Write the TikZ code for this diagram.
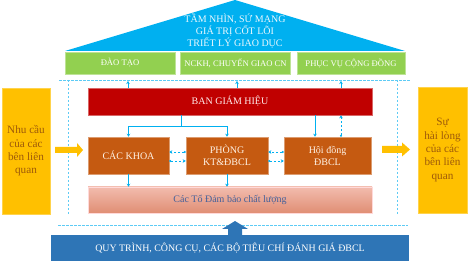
\documentclass[tikz,border=0pt]{standalone}
\usepackage{fontspec}
\setmainfont{Liberation Serif}
\usetikzlibrary{arrows.meta}
\definecolor{roofc}{HTML}{00B0F0}
\definecolor{greenc}{HTML}{92D050}
\definecolor{redc}{HTML}{C00000}
\definecolor{orangec}{HTML}{C55A11}
\definecolor{yellowc}{HTML}{FFC000}
\definecolor{ytext}{HTML}{9E5A0A}
\definecolor{bluec}{HTML}{2E75B6}
\definecolor{linec}{HTML}{00B0F0}
\definecolor{dashc}{HTML}{5DCBF5}
\definecolor{totext}{HTML}{44609A}
\definecolor{totop}{HTML}{F2BCAE}
\definecolor{tobot}{HTML}{E08E74}
\tikzset{
  box/.style={rectangle, inner sep=0pt, anchor=center, text centered},
  greenbox/.style={box, fill=greenc, draw=greenc!60!white, line width=0.6pt, minimum height=22pt, text=white, font=\fontsize{8.6}{9}\selectfont},
  redbox/.style={box, fill=redc, draw=redc!60!white, line width=0.5pt, text=white!92!red, font=\fontsize{10}{12}\selectfont},
  orangebox/.style={box, fill=orangec, draw=orangec!60!white, line width=0.5pt, minimum height=37pt, text=white!90!orange, font=\fontsize{10}{12}\selectfont, align=center},
  yellowbox/.style={box, fill=yellowc, draw=yellowc!70!white, line width=0.5pt, minimum width=48pt, minimum height=126pt, text=ytext, font=\fontsize{11.2}{13.3}\selectfont, align=center},
  conn/.style={draw=linec, line width=0.8pt, -{Stealth[length=3pt,width=3.5pt]}},
  dconn/.style={draw=linec, line width=0.8pt, dash pattern=on 2.5pt off 1.5pt, {Circle[length=2pt]}-{Stealth[length=3pt,width=3.5pt]}},
  dline/.style={draw=dashc, line width=0.8pt, dash pattern=on 2.5pt off 1.5pt},
}
\begin{document}
\begin{tikzpicture}[x=1pt,y=-1pt]
\useasboundingbox (0,0) rectangle (470,261);
% roof
\fill[roofc] (65,51) -- (235,0) -- (405,51) -- cycle;
\node[box, text=white!92!cyan, font=\fontsize{10}{12}\selectfont, align=center] (roof) at (235,31) {TẦM NHÌN, SỨ MẠNG\\GIÁ TRỊ CỐT LÕI\\TRIẾT LÝ GIAO DỤC};
% green boxes
\node[greenbox, minimum width=110pt] (g1) at (120,63) {ĐÀO TẠO};
\node[greenbox, minimum width=110pt] (g2) at (235.5,63) {NCKH, CHUYỂN GIAO CN};
\node[greenbox, minimum width=108pt] (g3) at (351,63) {PHỤC VỤ CỘNG ĐỒNG};
% dashed frame
\coordinate (tl) at (59,80); \coordinate (tr) at (410,80);
\coordinate (bl) at (58,225); \coordinate (br) at (408,225);
\coordinate (lv1) at (68,80); \coordinate (lv2) at (68,214);
\coordinate (rv1) at (397,80); \coordinate (rv2) at (397,215);
\draw[dline] (tl) -- (tr);
\draw[dline] (bl) -- (br);
\draw[dline] (lv1) -- (lv2);
\draw[dline] (rv1) -- (rv2);
% main boxes
\node[redbox, minimum width=284pt, minimum height=27pt] (bgh) at (230,101.5) {BAN GIÁM HIỆU};
\node[orangebox, minimum width=81pt] (khoa) at (128.5,155.5) {CÁC KHOA};
\node[orangebox, minimum width=82pt] (phong) at (227,155.5) {PHÒNG\\KT\&ĐBCL};
\node[orangebox, minimum width=87pt] (hd) at (327.5,155.5) {Hội đồng\\ĐBCL};
\node[box, minimum width=284pt, minimum height=26pt, top color=totop, bottom color=tobot, draw=white!85!red, line width=0.5pt, text=totext, font=\fontsize{10}{12}\selectfont] (to) at (230,200) {Các Tổ Đảm bảo chất lượng};
% side boxes
\node[yellowbox] (left) at (26,151) {Nhu cầu\\của các\\bên liên\\quan};
\node[yellowbox, minimum width=49pt] (right) at (442.5,150) {Sự\\hài lòng\\của các\\bên liên\\quan};
\node[box, fill=bluec, minimum width=358pt, minimum height=26pt, text=white, font=\fontsize{9.9}{12}\selectfont] (bottom) at (230,248) {QUY TRÌNH, CÔNG CỤ, CÁC BỘ TIÊU CHÍ ĐÁNH GIÁ ĐBCL};
% yellow block arrows
\fill[yellowc] (55,147) -- (77,147) -- (77,143) -- (83,150) -- (77,157) -- (77,153) -- (55,153) -- cycle;
\fill[yellowc] (382,146) -- (402,146) -- (402,142.5) -- (410,149.5) -- (402,156.5) -- (402,153) -- (382,153) -- cycle;
% blue up block arrow
\fill[bluec] (228,235) -- (228,229) -- (222,229) -- (235,221) -- (248,229) -- (242,229) -- (242,235) -- cycle;
% arrows up to dashed line
\foreach \xx in {128,237,341} {
  \coordinate (u\xx) at (\xx,81);
  \draw[conn] (bgh.north -| u\xx) -- (u\xx);
}
% BGH to khoa / phong
\coordinate (j1) at (181,126);
\draw[draw=linec, line width=0.8pt] (bgh.south -| j1) -- (j1);
\draw[conn] (j1) -| (khoa.north);
\draw[conn] (j1) -| (phong.north);
% BGH <-> HD
\coordinate (hx1) at (315,0); \coordinate (hx2) at (341,0);
\draw[conn] (bgh.south -| hx1) -- (hd.north -| hx1);
\draw[dconn] (hd.north -| hx2) -- (bgh.south -| hx2);
% horizontal dashed
\coordinate (ya) at (0,152); \coordinate (yb) at (0,161);
\draw[dconn] (phong.west |- ya) -- (khoa.east |- ya);
\draw[dconn] (khoa.east |- yb) -- (phong.west |- yb);
\draw[dconn] (hd.west |- ya) -- (phong.east |- ya);
\draw[dconn] (phong.east |- yb) -- (hd.west |- yb);
% down to To
\draw[conn] (khoa.south) -- (to.north -| khoa.south);
\draw[conn] (phong.south) -- (to.north -| phong.south);
\end{tikzpicture}
\end{document}
